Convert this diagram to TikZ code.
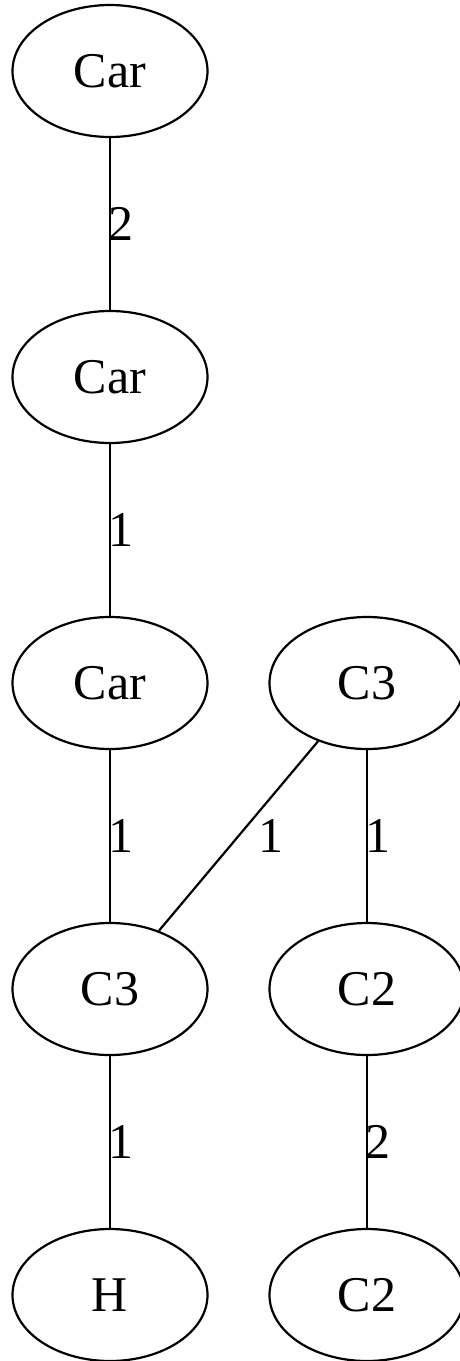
\documentclass[tikz,border=0pt]{standalone}
\usepackage{fontspec}
\setmainfont{Liberation Serif}
\usetikzlibrary{shapes.geometric}
\begin{document}
\begin{tikzpicture}[x=1pt,y=-1pt,
  vtx/.style={draw, ellipse, line width=2.2pt, inner sep=0pt, minimum width=195pt, minimum height=132pt, font=\fontsize{50}{60}\selectfont},
  edge/.style={line width=2.2pt},
  elabel/.style={font=\fontsize{50}{60}\selectfont, inner sep=0pt}]
\useasboundingbox (0,0) rectangle (459,1361);
\node[vtx] (car1) at (110,71) {Car};
\node[vtx] (car2) at (110,377) {Car};
\node[vtx] (car3) at (110,683) {Car};
\node[vtx] (c3r) at (367,683) {C3};
\node[vtx] (c3l) at (110,989) {C3};
\node[vtx] (c2a) at (367,989) {C2};
\node[vtx] (h) at (110,1295) {H};
\node[vtx] (c2b) at (367,1295) {C2};
\draw[edge] (car1) -- node[elabel, midway, xshift=11pt] {2} (car2);
\draw[edge] (car2) -- node[elabel, midway, xshift=11pt] {1} (car3);
\draw[edge] (car3) -- node[elabel, midway, xshift=11pt] {1} (c3l);
\draw[edge] (c3r) -- node[elabel, midway, xshift=32pt] {1} (c3l);
\draw[edge] (c3r) -- node[elabel, midway, xshift=11pt] {1} (c2a);
\draw[edge] (c3l) -- node[elabel, midway, xshift=11pt] {1} (h);
\draw[edge] (c2a) -- node[elabel, midway, xshift=11pt] {2} (c2b);
\end{tikzpicture}
\end{document}
